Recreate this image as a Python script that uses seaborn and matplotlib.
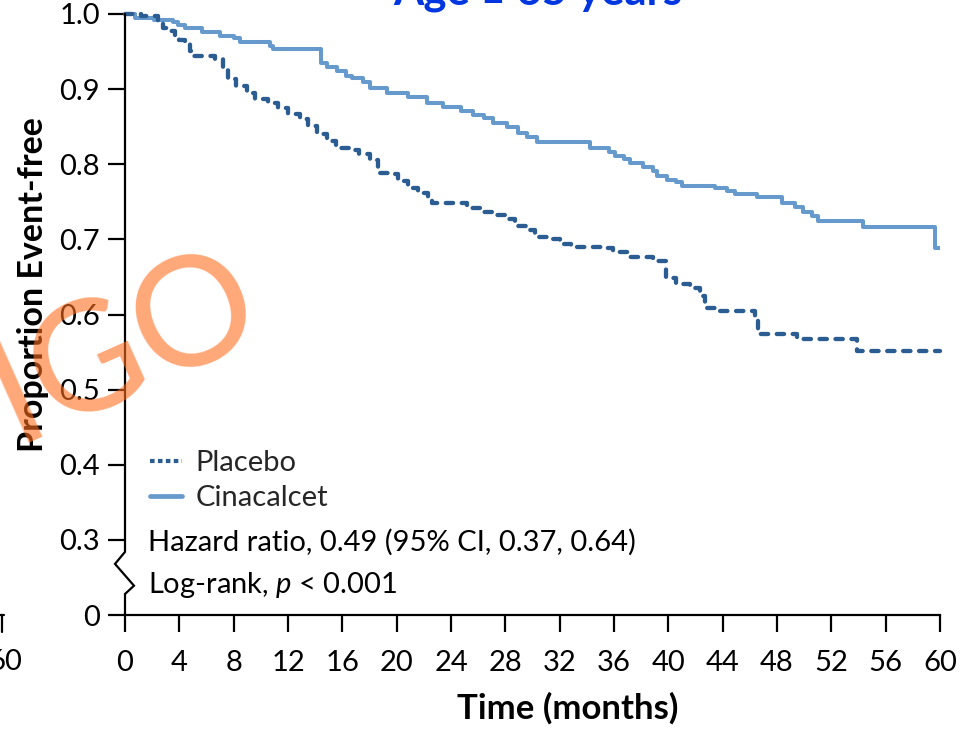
import matplotlib
matplotlib.use("Agg")
import matplotlib.pyplot as plt
from matplotlib.lines import Line2D
from matplotlib.transforms import blended_transform_factory
import numpy as np
import pandas as pd
import seaborn as sns

# ---- data ----
cin_t = [0, 0.7, 2.1, 3.5, 3.9, 4.4, 5.7, 7.0, 8.0, 8.5, 10.7, 10.9, 14.4, 14.9, 15.6,
         16.3, 16.7, 17.5, 18.0, 19.3, 20.8, 22.2, 23.4, 24.7, 25.6, 26.4, 27.1, 28.1,
         28.9, 29.6, 30.3, 34.2, 35.6, 36.1, 36.7, 37.2, 38.1, 38.9, 39.2, 39.9, 40.6,
         41.0, 43.4, 44.3, 44.9, 46.5, 48.4, 49.3, 49.9, 50.6, 51.0, 54.3, 59.6, 60.0]
cin_s = [1.0, 0.995, 0.992, 0.989, 0.986, 0.982, 0.976, 0.971, 0.968, 0.963, 0.958, 0.953,
         0.935, 0.929, 0.924, 0.918, 0.915, 0.909, 0.901, 0.895, 0.889, 0.882, 0.876,
         0.871, 0.865, 0.862, 0.855, 0.849, 0.842, 0.836, 0.829, 0.822, 0.816, 0.811,
         0.807, 0.801, 0.797, 0.791, 0.785, 0.779, 0.776, 0.771, 0.768, 0.764, 0.760,
         0.757, 0.748, 0.743, 0.736, 0.731, 0.725, 0.716, 0.688, 0.688]

pla_t = [0, 1.2, 2.4, 2.8, 3.1, 3.7, 4.0, 4.4, 4.8, 5.0, 6.6, 7.2, 7.6, 8.2, 9.0, 9.6,
         10.5, 11.3, 12.0, 12.9, 13.5, 14.1, 14.9, 15.5, 16.6, 17.2, 18.0, 18.6, 19.4,
         20.1, 20.8, 21.6, 22.3, 22.6, 25.2, 26.1, 27.1, 28.0, 28.7, 29.6, 30.2, 31.1,
         32.0, 32.8, 35.1, 35.9, 37.0, 38.9, 39.8, 40.6, 41.6, 42.3, 42.7, 43.6, 46.4,
         46.6, 49.5, 53.9, 60.0]
pla_s = [1.0, 0.997, 0.991, 0.982, 0.977, 0.971, 0.966, 0.962, 0.951, 0.944, 0.940,
         0.929, 0.913, 0.904, 0.895, 0.887, 0.882, 0.875, 0.867, 0.860, 0.851, 0.840,
         0.831, 0.822, 0.819, 0.813, 0.805, 0.789, 0.787, 0.778, 0.769, 0.762, 0.756,
         0.748, 0.742, 0.736, 0.733, 0.727, 0.718, 0.712, 0.703, 0.701, 0.694, 0.690,
         0.688, 0.683, 0.677, 0.671, 0.649, 0.641, 0.635, 0.625, 0.609, 0.604, 0.594,
         0.574, 0.567, 0.552, 0.552]

x_ticks = list(range(0, 61, 4))
y_ticks = [0.2, 0.3, 0.4, 0.5, 0.6, 0.7, 0.8, 0.9, 1.0]
y_ticklabels = ["0", "0.3", "0.4", "0.5", "0.6", "0.7", "0.8", "0.9", "1.0"]

series_names = ["Placebo", "Cinacalcet"]
colors = {"Placebo": "#2B5C92", "Cinacalcet": "#6699CC"}

title = "Age \u2265 65 years"
hr_text = "Hazard ratio, 0.49 (95% CI, 0.37, 0.64)"
lr_text = "Log-rank, $p$ < 0.001"

# ---- style ----
sns.set_theme(style="ticks")
plt.rcParams["font.family"] = ["Lato", "DejaVu Sans"]
plt.rcParams["mathtext.fontset"] = "custom"
plt.rcParams["mathtext.it"] = "Lato:italic"
plt.rcParams["mathtext.rm"] = "Lato"

FS = 21
W, H = 961, 729
fig = plt.figure(figsize=(W / 100, H / 100), dpi=100)
ax = fig.add_axes([125 / W, 1 - 615 / H, 815 / W, 601 / H])

df_cin = pd.DataFrame({"t": cin_t, "s": cin_s})
df_pla = pd.DataFrame({"t": pla_t, "s": pla_s})

sns.lineplot(data=df_cin, x="t", y="s", ax=ax, color=colors["Cinacalcet"], lw=2.9,
             drawstyle="steps-post", estimator=None, sort=False, clip_on=False,
             solid_capstyle="butt")
sns.lineplot(data=df_pla, x="t", y="s", ax=ax, color=colors["Placebo"], lw=3.1,
             drawstyle="steps-post", estimator=None, sort=False, clip_on=False,
             linestyle=(0, (1.7, 2.0)), dash_capstyle="round")

ax.set_xlim(0, 60)
ax.set_ylim(0.2, 1.0)
ax.set_xticks(x_ticks)
ax.set_xticklabels([str(v) for v in x_ticks])
ax.set_yticks(y_ticks)
ax.set_yticklabels(y_ticklabels)
ax.set_xlabel("")
ax.set_ylabel("")
ax.tick_params(axis="both", direction="out", length=12, width=1.6, color="black",
               labelsize=FS, labelcolor="black")
ax.tick_params(axis="x", pad=13)
ax.tick_params(axis="y", pad=6)
for side in ["top", "right", "left"]:
    ax.spines[side].set_visible(False)
ax.spines["bottom"].set_linewidth(1.6)
ax.spines["bottom"].set_color("black")

# broken left axis with zigzag
tr = blended_transform_factory(ax.transAxes, ax.transData)
zx = [0, 0, -10 / 815, 9 / 815, 0, 0]
zy = [1.0, 0.284, 0.268, 0.239, 0.228, 0.2]
ax.add_line(Line2D(zx, zy, transform=tr, color="black", lw=1.6, clip_on=False,
                   solid_joinstyle="miter"))

# legend
handles = [Line2D([], [], color=colors["Placebo"], lw=3.0, linestyle=(0, (1.1, 0.8))),
           Line2D([], [], color=colors["Cinacalcet"], lw=3.4)]
ax.legend(handles, series_names, loc="upper left", bbox_to_anchor=(0.0307, 0.2745),
          frameon=False, fontsize=FS, handlelength=1.1, handletextpad=0.45,
          borderpad=0, borderaxespad=0, labelspacing=0.32)

ax.text(23 / 815, (615 - 542) / 601, hr_text, transform=ax.transAxes, fontsize=FS,
        ha="left", va="center", color="black")
ax.text(23 / 815, (615 - 585) / 601, lr_text, transform=ax.transAxes, fontsize=FS,
        ha="left", va="center", color="black")

# axis labels
fig.text(33 / W, 1 - 285 / H, "Proportion Event-free", rotation=90, ha="center",
         va="center", fontsize=24.5, fontweight="bold", color="black")
fig.text(568 / W, 1 - 708 / H, "Time (months)", ha="center", va="center",
         fontsize=25, fontweight="bold", color="black")

# title (cropped at top)
fig.text(538 / W, 1 - 4 / H, title, ha="center", va="baseline", fontsize=31.5,
         fontweight="bold", color="#0036E0")

# remnant of neighbouring panel at the left edge
fig.text(5 / W, 1 - 662 / H, "60", ha="center", va="center", fontsize=FS, color="black")
fig.add_artist(Line2D([0, 4 / W], [1 - 615 / H, 1 - 615 / H], transform=fig.transFigure,
                      color="black", lw=1.6))
fig.add_artist(Line2D([2 / W, 2 / W], [1 - 615 / H, 1 - 632 / H], transform=fig.transFigure,
                      color="black", lw=1.6))

# watermark
fig.text(268 / W, 1 - 330 / H, "KDIGO", rotation=24, rotation_mode="anchor",
         ha="right", va="baseline", fontsize=110, color=(1.0, 0.43, 0.12), alpha=0.6)

fig.savefig("out.png", dpi=100)
